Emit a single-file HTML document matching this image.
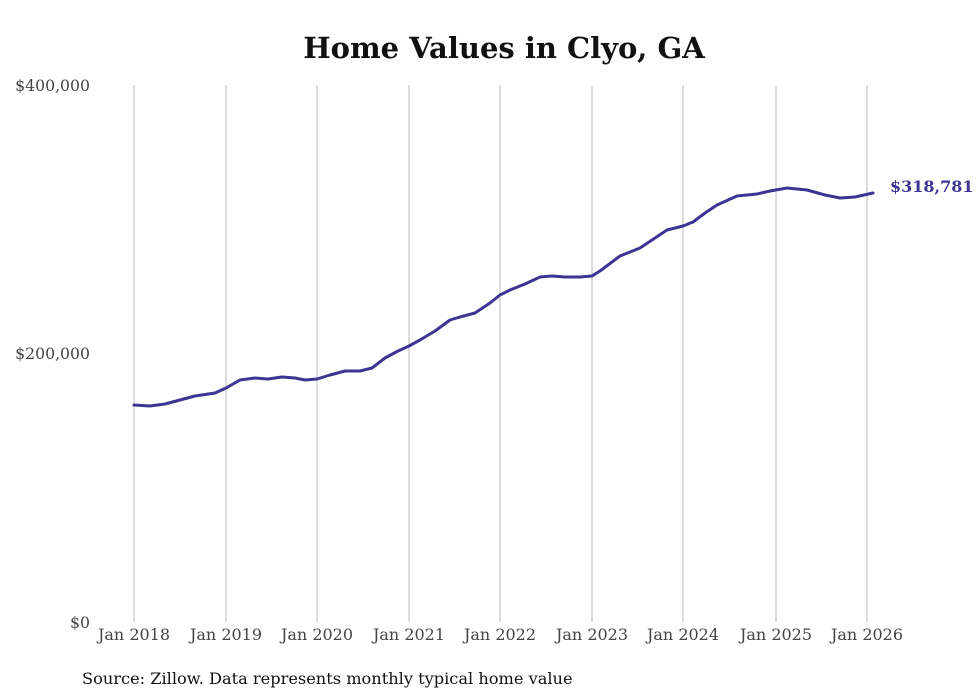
<!DOCTYPE html>
<html><head><meta charset="utf-8"><style>
body{margin:0;background:#fff;}
svg{display:block;font-family:"DejaVu Serif","Liberation Serif",serif;}
</style></head><body>
<svg width="980" height="699" viewBox="0 0 980 699">
<rect width="980" height="699" fill="#fff"/>
<text x="504" y="58" text-anchor="middle" font-size="29" font-weight="bold" fill="#111">Home Values in Clyo, GA</text>
<g stroke="#bbb" stroke-width="1">
<line x1="134" y1="85" x2="134" y2="622"/>
<line x1="226" y1="85" x2="226" y2="622"/>
<line x1="317" y1="85" x2="317" y2="622"/>
<line x1="409" y1="85" x2="409" y2="622"/>
<line x1="500" y1="85" x2="500" y2="622"/>
<line x1="592" y1="85" x2="592" y2="622"/>
<line x1="683" y1="85" x2="683" y2="622"/>
<line x1="776" y1="85" x2="776" y2="622"/>
<line x1="867" y1="85" x2="867" y2="622"/>
</g>
<g font-size="15.7" fill="#444">
<text x="90" y="91" text-anchor="end">$400,000</text>
<text x="90" y="359" text-anchor="end">$200,000</text>
<text x="90" y="628" text-anchor="end">$0</text>
</g>
<g font-size="16" fill="#444" text-anchor="middle">
<text x="134" y="640">Jan 2018</text>
<text x="226" y="640">Jan 2019</text>
<text x="317" y="640">Jan 2020</text>
<text x="409" y="640">Jan 2021</text>
<text x="500" y="640">Jan 2022</text>
<text x="592" y="640">Jan 2023</text>
<text x="683" y="640">Jan 2024</text>
<text x="776" y="640">Jan 2025</text>
<text x="867" y="640">Jan 2026</text>
</g>
<polyline fill="none" stroke="#3d3494" stroke-width="3" stroke-linejoin="round" stroke-linecap="round"
points="134,405 150,406 165,404 180,400 195,396 215,393 226,388 240,380 255,378 268,379 282,377 295,378 305,380 317,379 330,375 345,371 360,371 372,368 385,358 398,351 409,346 420,340 435,331 450,320 460,317 475,313 490,303 500,295 510,290 525,284 540,277 552,276 565,277 580,277 592,276 600,271 620,256 640,248 655,238 667,230 683,226 693,222 705,213 717,205 737,196 757,194 770,191 787,188 807,190 825,195 840,198 855,197 873,193"/>
<text x="890" y="192" font-size="16" font-weight="bold" fill="#3d3494">$318,781</text>
<text x="82" y="684" font-size="16.2" fill="#111">Source: Zillow. Data represents monthly typical home value</text>
</svg>
</body></html>
